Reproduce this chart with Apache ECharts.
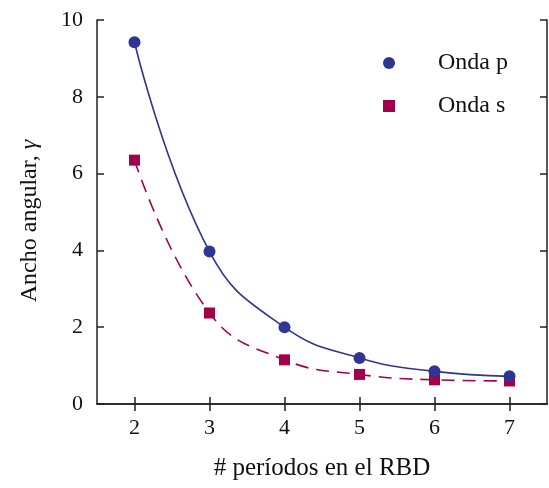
<!DOCTYPE html>
<html>
<head>
<meta charset="utf-8">
<script src="https://cdn.jsdelivr.net/npm/echarts@6/dist/echarts.min.js"></script>
<style>
  html, body { margin: 0; padding: 0; background: #fff; }
  #chart { width: 549px; height: 488px; }
</style>
</head>
<body>
<div id="chart"></div>
<script>
// Number of periods in the RBD
const periods = [2, 3, 4, 5, 6, 7];
// Angular width for each wave type
const ondaP = [9.42, 3.97, 2.0, 1.2, 0.85, 0.72];
const ondaS = [6.35, 2.37, 1.15, 0.77, 0.63, 0.6];
const xTicks = [2, 3, 4, 5, 6, 7];
const yTicks = [0, 2, 4, 6, 8, 10];

const blue = '#2e3592';
const crimson = '#a2004a';
const font = '"Liberation Serif", "DejaVu Serif", serif';

const toPairs = (xs, ys) => xs.map((x, i) => [x, ys[i]]);

const chart = echarts.init(document.getElementById('chart'), null, { renderer: 'canvas' });

const axisLine = { show: true, lineStyle: { color: '#222', width: 1.5 } };
const tickStyle = { color: '#222', width: 1.5 };

chart.setOption({
  animation: false,
  backgroundColor: '#fff',
  grid: { left: 97, right: 2, top: 20, bottom: 84, containLabel: false },
  legend: {
    orient: 'vertical',
    left: 378,
    top: 46,
    itemGap: 19,
    itemWidth: 12,
    itemHeight: 12,
    textStyle: { fontFamily: font, fontSize: 24, color: '#111', padding: [0, 0, 0, 38] },
    data: [
      { name: 'Onda p', icon: 'circle', itemStyle: { color: blue } },
      { name: 'Onda s', icon: 'rect', itemStyle: { color: crimson } }
    ]
  },
  xAxis: [
    {
      type: 'value', min: 1.5, max: 7.5,
      axisLine,
      axisTick: { show: true, inside: true, length: 7, lineStyle: tickStyle, customValues: xTicks },
      splitLine: { show: false },
      axisLabel: {
        fontFamily: font, fontSize: 22, color: '#111', margin: 13,
        customValues: xTicks
      },
      name: '# períodos en el RBD',
      nameLocation: 'middle', nameGap: 52,
      nameTextStyle: { fontFamily: font, fontSize: 25, color: '#111' }
    },
    {
      type: 'value', position: 'top', min: 1.5, max: 7.5,
      axisLine,
      axisTick: { show: true, inside: true, length: 7, lineStyle: tickStyle, customValues: xTicks },
      axisLabel: { show: false }, splitLine: { show: false }
    }
  ],
  yAxis: [
    {
      type: 'value', min: yTicks[0], max: yTicks[yTicks.length - 1], interval: 2,
      axisLine,
      axisTick: { show: true, inside: true, length: 7, lineStyle: tickStyle },
      splitLine: { show: false },
      axisLabel: { fontFamily: font, fontSize: 22, color: '#111', margin: 14 },
      name: 'Ancho angular, {i|γ}',
      nameLocation: 'middle', nameGap: 55, nameRotate: 90,
      nameTextStyle: {
        fontFamily: font, fontSize: 24, color: '#111', padding: [0, 18, 0, 0],
        rich: { i: { fontFamily: font, fontSize: 24, fontStyle: 'italic', color: '#111' } }
      }
    },
    {
      type: 'value', position: 'right', min: 0, max: 10, interval: 2,
      axisLine,
      axisTick: { show: true, inside: true, length: 7, lineStyle: tickStyle },
      axisLabel: { show: false }, splitLine: { show: false }
    }
  ],
  series: [
    {
      name: 'Onda p', type: 'line', data: toPairs(periods, ondaP),
      smooth: 0.45,
      symbol: 'circle', symbolSize: 12,
      lineStyle: { color: blue, width: 1.6 },
      itemStyle: { color: blue },
      z: 3
    },
    {
      name: 'Onda s', type: 'line', data: toPairs(periods, ondaS),
      smooth: 0.45,
      symbol: 'rect', symbolSize: 11,
      lineStyle: { color: crimson, width: 1.6, type: [13, 8] },
      itemStyle: { color: crimson },
      z: 2
    }
  ]
});
</script>
</body>
</html>
